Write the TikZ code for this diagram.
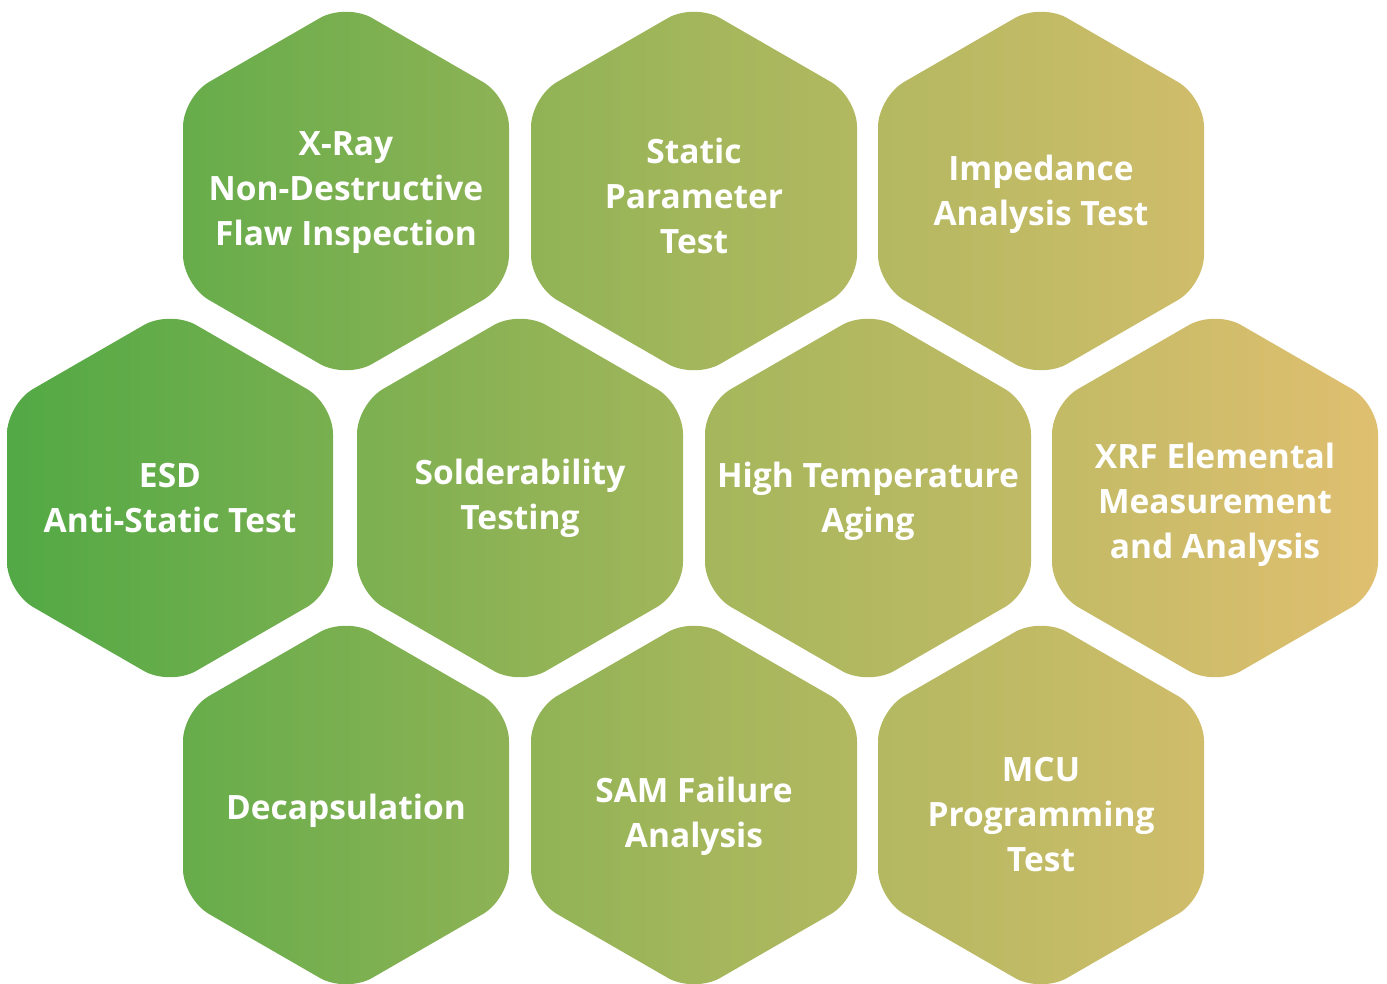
\documentclass[tikz,border=0pt]{standalone}
\usepackage{fontspec}
\setmainfont{Open Sans}
\begin{document}
\begin{tikzpicture}[x=1pt,y=-1pt,
  hexfill/.style={left color=hexL,right color=hexR,middle color=hexM,draw=none,rounded corners=30pt},
  label/.style={text=white,font=\fontsize{33.5}{45}\selectfont\bfseries,align=center,inner sep=0pt}]
\definecolor{hexL}{HTML}{52A945}
\definecolor{hexM}{HTML}{A3B65B}
\definecolor{hexR}{HTML}{DFBF70}
\useasboundingbox (0,0) rectangle (1387,984);
\shade[hexfill]
  foreach \cx/\cy in {346/191,694/191,1041/191,170/498,520/498,868/498,1215/498,346/805,694/805,1041/805}
  { (\cx-163,\cy) -- (\cx-163,\cy-94) -- (\cx,\cy-188) -- (\cx+163,\cy-94)
    -- (\cx+163,\cy+94) -- (\cx,\cy+188) -- (\cx-163,\cy+94) -- cycle };
\node[label] (xray) at (346,193) {X-Ray\\Non-Destructive\\Flaw Inspection};
\node[label] (static) at (694,196) {Static\\Parameter\\Test};
\node[label] (imp) at (1041,194) {Impedance\\Analysis Test};
\node[label] (esd) at (170,498) {ESD\\Anti-Static Test};
\node[label] (solder) at (520,498) {Solderability\\Testing};
\node[label] (htemp) at (868,501) {High Temperature\\Aging};
\node[label] (xrf) at (1215,505) {XRF Elemental\\Measurement\\and Analysis};
\node[label] (decap) at (346,811) {Decapsulation};
\node[label] (sam) at (694,816) {SAM Failure\\Analysis};
\node[label] (mcu) at (1041,815) {MCU\\Programming\\Test};
\end{tikzpicture}
\end{document}
